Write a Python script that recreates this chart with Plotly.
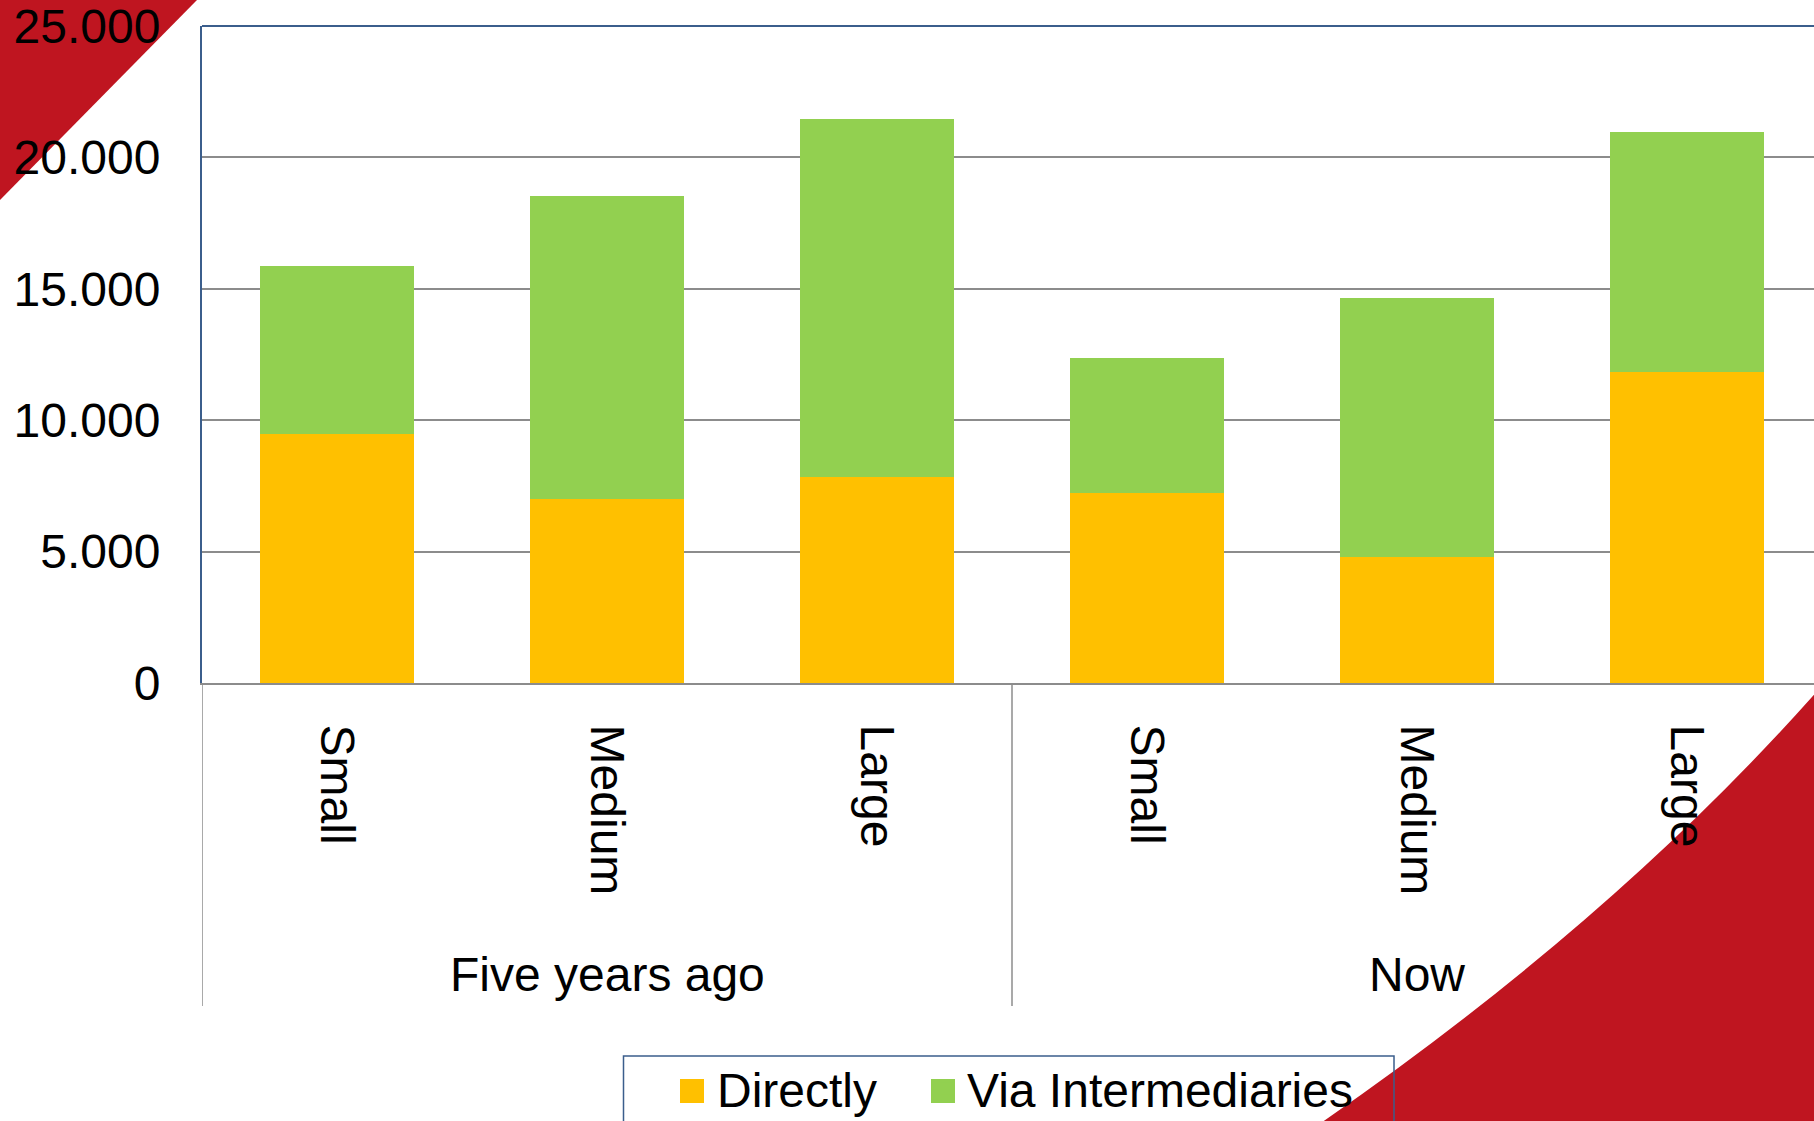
import plotly.graph_objects as go

# ---- data ----
periods = ["Five years ago", "Five years ago", "Five years ago", "Now", "Now", "Now"]
sizes = ["Small", "Medium", "Large", "Small", "Medium", "Large"]
directly = [9470, 7000, 7850, 7230, 4780, 11840]
via_intermediaries = [6400, 11520, 13630, 5150, 9870, 9110]
series_names = ["Directly", "Via Intermediaries"]
series_colors = ["#FFC000", "#92D050"]
y_ticks = [0, 5000, 10000, 15000, 20000, 25000]

# category keys (one per bar) built from the two label levels
keys = [f"{p} | {s}" for p, s in zip(periods, sizes)]
groups = []
for i, p in enumerate(periods):
    if not groups or groups[-1][0] != p:
        groups.append([p, i, i])
    else:
        groups[-1][2] = i

# ---- layout geometry (pixels) ----
W, H = 1814, 1121
ML, MR, MT, MB = 202, 0, 26, 438
PW, PH = W - ML - MR, H - MT - MB
BOTTOM = MT + PH
CAT_PX = 270.0


def px(x, y):
    return (x - ML) / PW, (BOTTOM - y) / PH


def yp(y):
    return (BOTTOM - y) / PH


FONT = "Liberation Sans, Arial, sans-serif"
RED = "#BF1520"
BLUE = "#3B5E8C"
GRAY = "#8C8C8C"

fig = go.Figure()
fig.add_trace(go.Bar(x=keys, y=directly, name=series_names[0], legend="legend",
                     marker=dict(color=series_colors[0], line=dict(width=0))))
fig.add_trace(go.Bar(x=keys, y=via_intermediaries, name=series_names[1], legend="legend2",
                     marker=dict(color=series_colors[1], line=dict(width=0))))

# decorative red corners
pts = [px(-5, -5), px(197, -5), px(197, 0), px(0, 200), px(-5, 205)]
tl = "M" + " L".join(f"{a:.5f},{b:.5f}" for a, b in pts) + " Z"
p0 = px(1820, 688)
c1 = px(1615, 920)
p2 = px(1318, 1125)
p3 = px(1820, 1125)
br = (f"M{p0[0]:.5f},{p0[1]:.5f} Q{c1[0]:.5f},{c1[1]:.5f} {p2[0]:.5f},{p2[1]:.5f} "
      f"L{p3[0]:.5f},{p3[1]:.5f} Z")

lb0 = px(623.5, 1056)
lb1 = px(1394, 1135)

shapes = [
    dict(type="path", path=tl, xref="paper", yref="paper", fillcolor=RED,
         line=dict(width=0), layer="below"),
    dict(type="path", path=br, xref="paper", yref="paper", fillcolor=RED,
         line=dict(width=0), layer="below"),
    dict(type="line", xref="paper", yref="paper", x0=0, x1=1.01, y0=1, y1=1,
         line=dict(color=BLUE, width=2)),
    dict(type="rect", xref="paper", yref="paper", x0=lb0[0], x1=lb1[0], y0=lb1[1], y1=lb0[1],
         line=dict(color=BLUE, width=1.5), fillcolor="rgba(0,0,0,0)"),
]
# larger legend swatches behind the legend symbols
for sx, col in zip([680, 931], series_colors):
    a0 = px(sx, 1079)
    a1 = px(sx + 24, 1103)
    shapes.append(dict(type="rect", xref="paper", yref="paper", x0=a0[0], x1=a1[0],
                       y0=a1[1], y1=a0[1], fillcolor=col, line=dict(width=0)))

annotations = []
for name, i0, i1 in groups:
    shapes.append(dict(type="line", xref="x", yref="paper", x0=i0 - 0.5, x1=i0 - 0.5,
                       y0=0, y1=yp(1006), line=dict(color=GRAY, width=1.5)))
    annotations.append(dict(xref="x", yref="paper", x=(i0 + i1) / 2, y=yp(974),
                            text=name, showarrow=False, xanchor="center", yanchor="middle",
                            font=dict(family=FONT, size=48, color="black")))
last = groups[-1][2]
shapes.append(dict(type="line", xref="x", yref="paper", x0=last + 0.5, x1=last + 0.5,
                   y0=0, y1=yp(1006), line=dict(color=GRAY, width=1.5)))

lx1, ly = px(677, 1051)
lx2, _ = px(927, 1051)
legend_common = dict(orientation="h", y=ly, xanchor="left", yanchor="top",
                     font=dict(family=FONT, size=48, color="black"),
                     bgcolor="rgba(0,0,0,0)", borderwidth=0)

fig.update_layout(
    width=W, height=H,
    margin=dict(l=ML, r=MR, t=MT, b=MB, pad=0, autoexpand=False),
    paper_bgcolor="white", plot_bgcolor="rgba(0,0,0,0)",
    barmode="stack", bargap=0.433,
    separators=",.",
    font=dict(family=FONT, size=48, color="black"),
    showlegend=True,
    legend=dict(x=lx1, **legend_common),
    legend2=dict(x=lx2, **legend_common),
    xaxis=dict(type="category", range=[-0.5, -0.5 + PW / CAT_PX],
               tickvals=keys, ticktext=sizes,
               showline=True, linecolor=GRAY, linewidth=2,
               ticks="", tickangle=90, showgrid=False,
               tickfont=dict(family=FONT, size=48, color="black"),
               ticklabelstandoff=30),
    yaxis=dict(range=[0, 25000], tickvals=y_ticks, tickformat=",d",
               showline=True, linecolor=BLUE, linewidth=2,
               showgrid=True, gridcolor=GRAY, gridwidth=1.5,
               zeroline=False, ticks="", ticklabeloverflow="allow",
               tickfont=dict(family=FONT, size=48, color="black"),
               ticklabelstandoff=30),
    shapes=shapes,
    annotations=annotations,
)

fig.write_html("out.html", config={"displayModeBar": False},
               post_script="document.body.style.margin='0';document.body.style.overflow='hidden';")
